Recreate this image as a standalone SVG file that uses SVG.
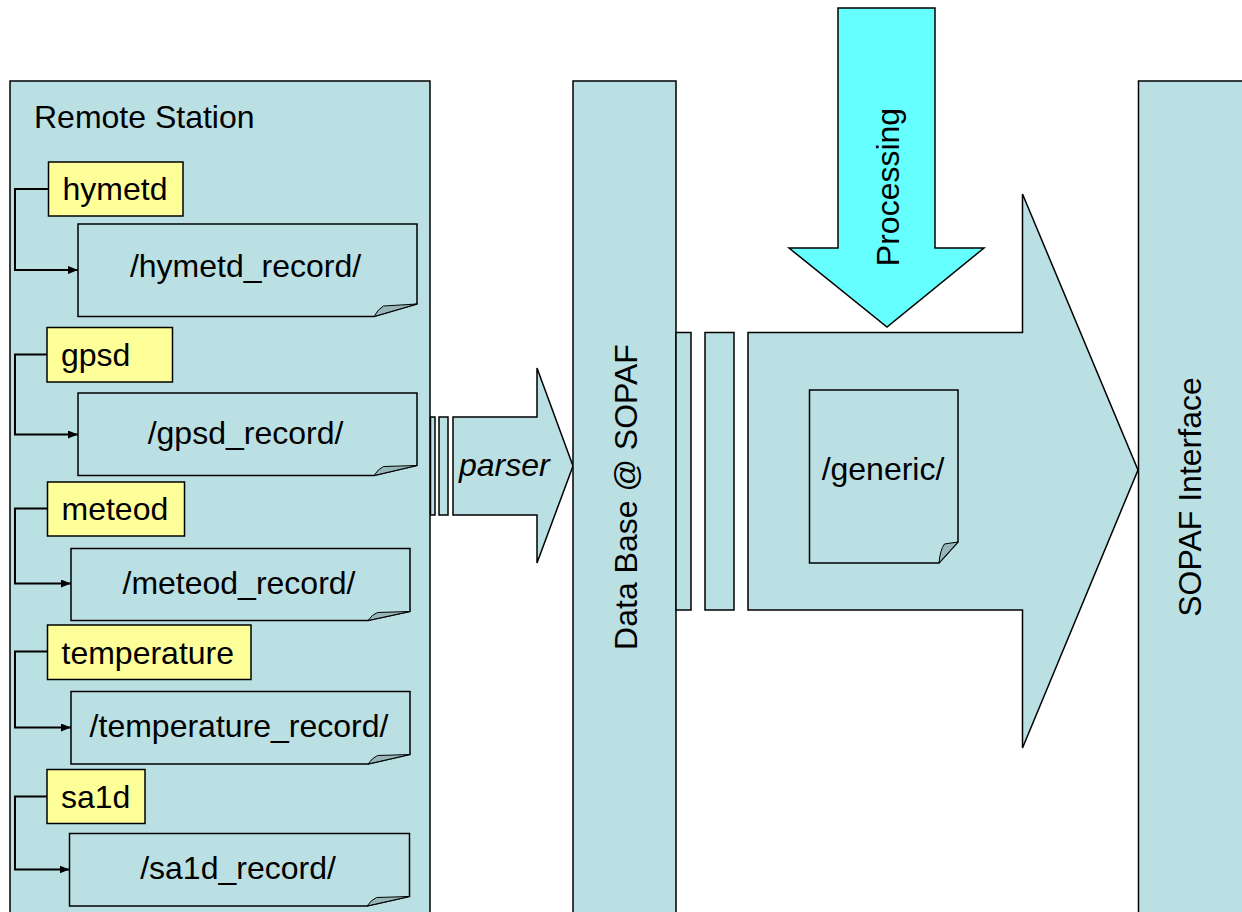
<svg xmlns="http://www.w3.org/2000/svg" width="1242" height="912" viewBox="0 0 1242 912">
  <defs>
    <marker id="arrow" viewBox="0 0 10 8" refX="10" refY="4" markerWidth="10" markerHeight="8" markerUnits="userSpaceOnUse" orient="auto">
      <path d="M0,0 L10,4 L0,8 Z" fill="#000"/>
    </marker>
  </defs>
  <style>
    .box { fill: #BBE0E3; stroke: #000; stroke-width: 1.5; }
    .lbl { fill: #FFFF99; stroke: #000; stroke-width: 1.5; }
    .proc { fill: #66FFFF; stroke: #000; stroke-width: 1.5; }
    .curl { fill: #97B6B9; stroke: #000; stroke-width: 1; }
    .t { font-family: "Liberation Sans", Arial, sans-serif; font-size: 32px; fill: #000; }
    .mid { text-anchor: middle; }
    .conn { fill: none; stroke: #000; stroke-width: 2; marker-end: url(#arrow); }
  </style>
  <rect width="1242" height="912" fill="#fff"/>

  <!-- Remote station container -->
  <g id="remote-station">
    <rect class="box" x="10" y="81" width="420" height="850"/>
    <text class="t" x="34" y="128">Remote Station</text>
  </g>

  <!-- Processing input arrow -->
  <g id="processing">
    <path class="proc" d="M838,8 H935 V248 H984 L887,327 L789,248 H838 Z"/>
    <text class="t mid" transform="translate(899,187) rotate(-90)">Processing</text>
  </g>

  <!-- Parser arrow with trailing bars -->
  <g id="parser">
    <rect class="box" x="430.5" y="417" width="4.5" height="98"/>
    <rect class="box" x="439" y="417" width="9" height="98"/>
    <path class="box" d="M453,417 H537 V368 L573,466 L537,563 V515 H453 Z"/>
    <text class="t" x="459" y="476" font-style="italic">parser</text>
  </g>

  <!-- Database column -->
  <g id="database">
    <rect class="box" x="573" y="81" width="103" height="850"/>
    <text class="t mid" transform="translate(637,497) rotate(-90)">Data Base @ SOPAF</text>
  </g>

  <!-- Generic output arrow with trailing bars -->
  <g id="generic-flow">
    <rect class="box" x="676" y="332.5" width="15" height="277.5"/>
    <rect class="box" x="705" y="332.5" width="29" height="277.5"/>
    <path class="box" d="M748,332.5 H1022.5 V194 L1138,470 L1022.5,748 V610 H748 Z"/>
  </g>

  <g id="generic-doc">
    <path class="box" d="M809.5,390 H958 V542 L939,563 H809.5 Z"/>
    <path class="curl" d="M939,563 Q940,550 944.5,544 Q951,543 958,542 Z"/>
    <text class="t mid" x="883" y="480">/generic/</text>
  </g>

  <!-- SOPAF interface column -->
  <g id="sopaf-interface">
    <rect class="box" x="1138.5" y="81" width="120" height="850"/>
    <text class="t mid" transform="translate(1201,497) rotate(-90)">SOPAF Interface</text>
  </g>

  <!-- Daemon labels -->
  <g id="lbl-hymetd">
    <rect class="lbl" x="48.5" y="162" width="134.5" height="54"/>
    <text class="t" x="62.5" y="200">hymetd</text>
  </g>
  <g id="lbl-gpsd">
    <rect class="lbl" x="47" y="327.5" width="125.5" height="54.5"/>
    <text class="t" x="61" y="366">gpsd</text>
  </g>
  <g id="lbl-meteod">
    <rect class="lbl" x="47.5" y="482" width="137" height="54"/>
    <text class="t" x="61.5" y="520">meteod</text>
  </g>
  <g id="lbl-temperature">
    <rect class="lbl" x="47.5" y="625" width="203.5" height="54.5"/>
    <text class="t" x="61.5" y="664">temperature</text>
  </g>
  <g id="lbl-sa1d">
    <rect class="lbl" x="47" y="769.5" width="98" height="54"/>
    <text class="t" x="61" y="808">sa1d</text>
  </g>

  <!-- Record documents -->
  <g id="doc-hymetd">
    <path class="box" d="M78,224 H417 V304 L374,316.5 H78 Z"/>
    <path class="curl" d="M374,316.5 Q378,309 383.5,306 Q400,305 417,304 Z"/>
    <text class="t mid" x="245.5" y="277">/hymetd_record/</text>
  </g>
  <g id="doc-gpsd">
    <path class="box" d="M78,393 H417 V465.5 L374,475.5 H78 Z"/>
    <path class="curl" d="M374,475.5 Q378,469 383.5,466.5 Q400,466 417,465.5 Z"/>
    <text class="t mid" x="245.5" y="443.5">/gpsd_record/</text>
  </g>
  <g id="doc-meteod">
    <path class="box" d="M71,548.5 H410 V611.5 L368,620.5 H71 Z"/>
    <path class="curl" d="M368,620.5 Q372,614.5 377.5,612.5 Q394,612 410,611.5 Z"/>
    <text class="t mid" x="239" y="593.5">/meteod_record/</text>
  </g>
  <g id="doc-temperature">
    <path class="box" d="M71,691.5 H410 V754.5 L368,764 H71 Z"/>
    <path class="curl" d="M368,764 Q372,758 377.5,755.5 Q394,755 410,754.5 Z"/>
    <text class="t mid" x="239" y="737">/temperature_record/</text>
  </g>
  <g id="doc-sa1d">
    <path class="box" d="M69.5,833.5 H409.5 V896.5 L367,906 H69.5 Z"/>
    <path class="curl" d="M367,906 Q371,900 376.5,897.5 Q393,897 409.5,896.5 Z"/>
    <text class="t mid" x="238" y="878.5">/sa1d_record/</text>
  </g>

  <!-- Label-to-record connectors -->
  <g id="connectors">
    <path class="conn" d="M48.5,189 H15 V270 H78"/>
    <path class="conn" d="M47,354.5 H15 V434.5 H78"/>
    <path class="conn" d="M47.5,508.5 H15 V583.5 H71"/>
    <path class="conn" d="M47.5,651.5 H15 V727.5 H71"/>
    <path class="conn" d="M47,796.5 H15 V869.5 H69.5"/>
  </g>
</svg>
